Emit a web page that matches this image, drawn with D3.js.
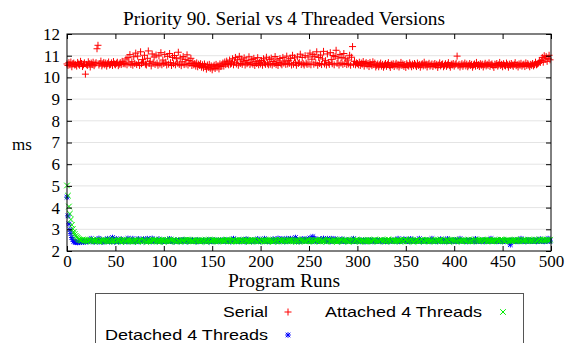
<!DOCTYPE html>
<html>
<head>
<meta charset="utf-8">
<script src="https://cdn.jsdelivr.net/npm/d3@7/dist/d3.min.js"></script>
<style>
  body { margin: 0; background: #fff; }
  svg { display: block; }
</style>
</head>
<body>
<div id="chart"></div>
<script>
// x values are the program run index, 0..499
const xTicks = [0, 50, 100, 150, 200, 250, 300, 350, 400, 450, 500];
const yTicks = [2, 3, 4, 5, 6, 7, 8, 9, 10, 11, 12];

// Serial (ms)
const serial = [
  10.62,10.55,10.68,10.58,10.71,10.49,10.63,10.66,10.57,10.60,
  10.52,10.69,10.61,10.56,10.74,10.64,10.50,10.58,10.67,10.15,
  10.60,10.55,10.72,10.63,10.48,10.66,10.59,10.70,10.54,10.62,
  10.68,11.32,11.48,10.57,10.64,10.75,10.53,10.61,10.69,10.58,
  10.66,10.52,10.63,10.71,10.57,10.60,10.67,10.55,10.73,10.62,
  10.58,10.65,10.70,10.54,10.61,10.68,10.59,10.74,10.63,10.66,
  10.62,10.85,10.58,10.91,10.66,11.05,10.60,10.72,10.56,10.95,
  10.64,11.12,10.59,10.98,10.68,10.55,11.18,10.63,10.82,10.70,
  11.02,10.61,10.57,10.88,11.22,10.65,10.74,10.53,11.08,10.67,
  10.94,10.60,11.03,10.66,10.56,10.99,10.62,11.14,10.58,10.80,
  10.64,11.06,10.70,10.57,10.97,10.61,11.10,10.68,10.55,10.92,
  10.63,11.01,10.58,10.86,10.66,11.16,10.60,10.90,10.54,10.72,
  10.96,10.59,10.83,10.62,11.04,10.57,10.78,10.64,10.88,10.55,
  10.71,10.58,10.64,10.52,10.67,10.49,10.61,10.55,10.63,10.47,
  10.58,10.44,10.62,10.51,10.38,10.57,10.46,10.60,10.42,10.53,
  10.35,10.49,10.56,10.41,10.60,10.47,10.54,10.39,10.62,10.50,
  10.57,10.66,10.52,10.71,10.59,10.75,10.63,10.58,10.80,10.61,
  10.65,10.86,10.58,10.70,10.92,10.62,10.81,10.56,10.97,10.64,
  10.84,10.60,10.72,10.90,10.57,10.78,10.63,10.68,10.95,10.59,
  10.66,10.82,10.61,10.88,10.55,10.74,10.64,10.91,10.58,10.70,
  10.62,10.78,10.56,10.86,10.67,10.60,10.93,10.65,10.58,10.83,
  10.61,10.89,10.57,10.73,10.64,10.96,10.59,10.80,10.55,10.69,
  10.87,10.63,10.58,10.92,10.66,10.75,10.60,10.98,10.62,10.79,
  10.65,10.88,10.57,11.02,10.61,10.90,10.68,10.56,10.95,10.64,
  10.70,11.07,10.59,10.92,10.63,10.57,11.00,10.66,10.60,10.94,
  10.62,11.12,10.58,10.84,11.05,10.61,10.97,10.67,11.18,10.56,
  10.92,10.64,11.03,10.59,10.85,11.20,10.62,10.77,10.57,11.08,
  10.68,10.60,11.14,10.82,10.63,11.01,10.58,10.96,11.25,10.65,
  10.89,10.57,11.06,10.66,10.92,10.60,11.10,10.64,10.86,10.59,
  10.80,10.62,11.02,10.56,10.93,11.42,10.61,10.74,10.58,10.67,
  10.64,10.58,10.70,10.55,10.66,10.61,10.73,10.52,10.63,10.68,
  10.57,10.64,10.50,10.69,10.60,10.54,10.72,10.59,10.66,10.48,
  10.55,10.62,10.49,10.58,10.66,10.52,10.60,10.47,10.57,10.64,
  10.51,10.59,10.68,10.54,10.46,10.61,10.56,10.63,10.50,10.58,
  10.65,10.53,10.60,10.48,10.57,10.69,10.55,10.62,10.51,10.59,
  10.46,10.63,10.56,10.52,10.67,10.58,10.49,10.61,10.54,10.64,
  10.57,10.50,10.66,10.55,10.60,10.47,10.58,10.63,10.53,10.70,
  10.56,10.61,10.48,10.59,10.65,10.52,10.57,10.62,10.50,10.58,
  10.64,10.54,10.60,10.46,10.57,10.67,10.53,10.59,10.62,10.49,
  10.56,10.63,10.51,10.58,10.68,10.55,10.47,10.61,10.57,10.64,
  10.52,10.59,10.65,10.98,10.54,10.60,10.48,10.57,10.63,10.51,
  10.58,10.66,10.53,10.61,10.49,10.56,10.64,10.55,10.60,10.47,
  10.57,10.62,10.52,10.69,10.55,10.59,10.50,10.63,10.56,10.61,
  10.48,10.58,10.65,10.53,10.60,10.56,10.67,10.51,10.59,10.62,
  10.54,10.46,10.61,10.57,10.64,10.52,10.58,10.69,10.55,10.60,
  10.49,10.63,10.56,10.53,10.66,10.58,10.47,10.61,10.55,10.64,
  10.57,10.51,10.60,10.68,10.54,10.59,10.48,10.62,10.56,10.65,
  10.52,10.58,10.61,10.50,10.67,10.55,10.63,10.57,10.49,10.60,
  10.56,10.64,10.53,10.59,10.70,10.58,10.62,10.66,10.74,10.69,
  10.78,10.92,10.70,11.00,10.85,10.96,10.74,10.88,11.02,10.81
];

// Attached 4 Threads (ms)
const attached = [
  5.02,4.55,4.05,3.72,3.45,3.20,3.02,2.88,2.78,2.70,
  2.64,2.60,2.55,2.52,2.50,2.48,2.53,2.46,2.51,2.49,
  2.47,2.44,2.50,2.46,2.52,2.43,2.48,2.51,2.45,2.49,
  2.46,2.53,2.44,2.48,2.42,2.50,2.47,2.45,2.52,2.46,
  2.49,2.45,2.51,2.43,2.47,2.54,2.46,2.44,2.50,2.48,
  2.44,2.49,2.46,2.52,2.45,2.48,2.41,2.50,2.47,2.53,
  2.48,2.43,2.50,2.46,2.51,2.44,2.49,2.47,2.42,2.50,
  2.45,2.51,2.47,2.43,2.49,2.46,2.53,2.48,2.44,2.47,
  2.50,2.46,2.42,2.49,2.45,2.52,2.47,2.43,2.51,2.46,
  2.47,2.53,2.45,2.48,2.44,2.50,2.42,2.49,2.46,2.52,
  2.43,2.48,2.51,2.45,2.50,2.47,2.44,2.53,2.46,2.49,
  2.51,2.45,2.48,2.42,2.47,2.50,2.46,2.44,2.52,2.48,
  2.46,2.50,2.43,2.49,2.53,2.45,2.48,2.51,2.44,2.47,
  2.49,2.44,2.52,2.47,2.45,2.48,2.50,2.43,2.46,2.51,
  2.45,2.48,2.46,2.51,2.42,2.49,2.47,2.53,2.48,2.44,
  2.52,2.46,2.49,2.44,2.50,2.47,2.43,2.48,2.45,2.50,
  2.47,2.51,2.45,2.48,2.46,2.53,2.49,2.44,2.50,2.46,
  2.44,2.49,2.52,2.46,2.48,2.43,2.51,2.47,2.45,2.49,
  2.50,2.45,2.47,2.53,2.44,2.48,2.46,2.50,2.42,2.48,
  2.46,2.52,2.44,2.49,2.51,2.45,2.48,2.43,2.50,2.47,
  2.48,2.44,2.50,2.46,2.43,2.51,2.47,2.49,2.45,2.52,
  2.45,2.50,2.47,2.42,2.49,2.46,2.52,2.48,2.44,2.50,
  2.51,2.46,2.43,2.48,2.50,2.44,2.47,2.53,2.46,2.49,
  2.47,2.52,2.45,2.50,2.44,2.49,2.46,2.42,2.51,2.48,
  2.43,2.48,2.51,2.46,2.53,2.47,2.44,2.49,2.45,2.50,
  2.49,2.45,2.47,2.52,2.46,2.43,2.50,2.48,2.51,2.44,
  2.46,2.51,2.44,2.48,2.50,2.45,2.53,2.47,2.43,2.49,
  2.52,2.47,2.49,2.44,2.46,2.51,2.45,2.50,2.48,2.42,
  2.45,2.50,2.46,2.53,2.48,2.44,2.49,2.46,2.52,2.47,
  2.48,2.43,2.51,2.47,2.45,2.50,2.44,2.48,2.46,2.53,
  2.50,2.46,2.48,2.42,2.51,2.47,2.49,2.45,2.44,2.50,
  2.44,2.52,2.47,2.49,2.46,2.43,2.50,2.48,2.53,2.45,
  2.49,2.46,2.44,2.51,2.48,2.52,2.45,2.47,2.50,2.43,
  2.47,2.50,2.53,2.45,2.49,2.44,2.48,2.51,2.46,2.48,
  2.45,2.49,2.46,2.50,2.43,2.48,2.52,2.44,2.47,2.51,
  2.51,2.44,2.48,2.46,2.50,2.53,2.47,2.49,2.42,2.46,
  2.46,2.48,2.51,2.44,2.47,2.45,2.50,2.52,2.48,2.43,
  2.50,2.47,2.45,2.52,2.44,2.49,2.46,2.48,2.51,2.47,
  2.43,2.51,2.48,2.46,2.50,2.47,2.53,2.45,2.49,2.44,
  2.48,2.45,2.50,2.49,2.46,2.42,2.48,2.51,2.47,2.52,
  2.46,2.52,2.44,2.47,2.51,2.48,2.45,2.50,2.43,2.49,
  2.50,2.47,2.49,2.45,2.48,2.53,2.46,2.44,2.51,2.47,
  2.44,2.49,2.52,2.48,2.45,2.47,2.50,2.46,2.49,2.53,
  2.49,2.46,2.47,2.51,2.43,2.50,2.48,2.52,2.45,2.46,
  2.47,2.51,2.45,2.49,2.50,2.44,2.47,2.48,2.53,2.50,
  2.52,2.48,2.46,2.44,2.49,2.51,2.45,2.50,2.47,2.48,
  2.45,2.50,2.48,2.53,2.46,2.47,2.52,2.44,2.49,2.51,
  2.48,2.44,2.51,2.47,2.50,2.45,2.49,2.53,2.46,2.50,
  2.50,2.47,2.45,2.49,2.52,2.48,2.46,2.51,2.54,2.49,
  2.47,2.52,2.49,2.46,2.51,2.48,2.53,2.50,2.47,2.52
];

// Detached 4 Threads (ms)
const detached = [
  4.48,3.62,3.25,2.98,2.80,2.62,2.52,2.45,2.42,2.40,
  2.41,2.39,2.43,2.40,2.44,2.42,2.46,2.41,2.45,2.43,
  2.46,2.43,2.49,2.45,2.50,2.57,2.44,2.47,2.42,2.48,
  2.45,2.51,2.43,2.58,2.46,2.49,2.41,2.47,2.44,2.50,
  2.48,2.44,2.57,2.46,2.43,2.49,2.45,2.62,2.47,2.42,
  2.44,2.56,2.47,2.45,2.50,2.43,2.55,2.48,2.46,2.44,
  2.49,2.46,2.43,2.58,2.47,2.51,2.44,2.46,2.57,2.45,
  2.47,2.42,2.50,2.45,2.56,2.48,2.44,2.49,2.46,2.55,
  2.43,2.48,2.46,2.57,2.45,2.50,2.47,2.43,2.58,2.46,
  2.50,2.45,2.48,2.44,2.47,2.55,2.45,2.49,2.43,2.48,
  2.46,2.49,2.44,2.47,2.51,2.45,2.56,2.46,2.48,2.44,
  2.48,2.43,2.47,2.50,2.45,2.48,2.44,2.49,2.46,2.51,
  2.44,2.47,2.50,2.46,2.43,2.49,2.47,2.45,2.50,2.46,
  2.49,2.45,2.48,2.43,2.47,2.51,2.44,2.48,2.46,2.45,
  2.46,2.50,2.44,2.48,2.45,2.47,2.49,2.43,2.51,2.47,
  2.47,2.44,2.49,2.46,2.50,2.45,2.48,2.44,2.47,2.50,
  2.45,2.48,2.46,2.51,2.44,2.49,2.47,2.45,2.48,2.43,
  2.50,2.46,2.57,2.45,2.48,2.44,2.49,2.47,2.45,2.51,
  2.44,2.49,2.46,2.48,2.43,2.55,2.45,2.50,2.47,2.46,
  2.48,2.45,2.50,2.44,2.47,2.49,2.46,2.56,2.45,2.48,
  2.46,2.51,2.44,2.48,2.57,2.46,2.49,2.45,2.47,2.44,
  2.49,2.45,2.47,2.55,2.46,2.50,2.44,2.48,2.58,2.46,
  2.45,2.48,2.56,2.46,2.49,2.44,2.47,2.57,2.45,2.50,
  2.47,2.57,2.45,2.49,2.44,2.48,2.62,2.46,2.50,2.45,
  2.44,2.48,2.50,2.56,2.46,2.45,2.49,2.55,2.47,2.48,
  2.48,2.60,2.46,2.44,2.66,2.47,2.57,2.45,2.49,2.46,
  2.50,2.45,2.55,2.48,2.46,2.58,2.44,2.49,2.47,2.57,
  2.46,2.49,2.44,2.57,2.48,2.45,2.50,2.56,2.46,2.47,
  2.49,2.44,2.47,2.46,2.55,2.48,2.45,2.50,2.44,2.48,
  2.45,2.50,2.46,2.48,2.44,2.47,2.57,2.45,2.49,2.46,
  2.48,2.46,2.49,2.44,2.50,2.45,2.47,2.48,2.43,2.49,
  2.44,2.49,2.45,2.47,2.46,2.50,2.44,2.48,2.47,2.45,
  2.47,2.45,2.48,2.50,2.44,2.46,2.49,2.45,2.48,2.44,
  2.45,2.48,2.46,2.44,2.49,2.47,2.45,2.50,2.46,2.48,
  2.49,2.44,2.57,2.47,2.45,2.48,2.46,2.49,2.55,2.47,
  2.46,2.50,2.45,2.48,2.44,2.56,2.47,2.45,2.49,2.46,
  2.48,2.45,2.49,2.46,2.57,2.47,2.44,2.48,2.46,2.50,
  2.45,2.48,2.46,2.50,2.47,2.44,2.49,2.57,2.45,2.47,
  2.47,2.44,2.48,2.45,2.49,2.46,2.55,2.48,2.44,2.49,
  2.44,2.49,2.47,2.56,2.45,2.48,2.46,2.44,2.50,2.46,
  2.49,2.46,2.44,2.48,2.47,2.45,2.57,2.49,2.46,2.48,
  2.46,2.48,2.45,2.49,2.44,2.47,2.50,2.46,2.48,2.45,
  2.48,2.44,2.56,2.46,2.49,2.45,2.47,2.48,2.44,2.50,
  2.45,2.50,2.47,2.44,2.48,2.46,2.49,2.45,2.57,2.47,
  2.47,2.45,2.49,2.46,2.44,2.48,2.45,2.50,2.47,2.46,
  2.44,2.48,2.46,2.49,2.47,2.45,2.48,2.44,2.29,2.49,
  2.49,2.46,2.48,2.45,2.50,2.47,2.44,2.48,2.46,2.57,
  2.46,2.49,2.45,2.47,2.44,2.48,2.50,2.46,2.49,2.45,
  2.48,2.45,2.47,2.50,2.46,2.44,2.48,2.49,2.45,2.55,
  2.45,2.48,2.46,2.44,2.49,2.47,2.45,2.57,2.48,2.46
];

const width = 568, height = 343;
const plot = { left: 67, right: 551, top: 34, bottom: 251 };

const svg = d3.select('#chart').append('svg')
  .attr('width', width)
  .attr('height', height)
  .style('background', '#fff');

const x = d3.scaleLinear().domain([0, 500]).range([plot.left, plot.right]);
const y = d3.scaleLinear().domain([2, 12]).range([plot.bottom, plot.top]);

const serif = '"Liberation Serif", "Times New Roman", serif';
const sans = '"Liberation Sans", Arial, sans-serif';

// light horizontal grid
svg.append('g')
  .selectAll('line')
  .data(yTicks.slice(1, -1))
  .enter().append('line')
  .attr('x1', plot.left).attr('x2', plot.right)
  .attr('y1', d => y(d)).attr('y2', d => y(d))
  .attr('stroke', '#e4e4e4')
  .attr('stroke-width', 1);

// marker shapes (gnuplot style)
const plusPath = 'M-3.5,0H3.5M0,-3.5V3.5';
const crossPath = 'M-2.8,-2.8L2.8,2.8M-2.8,2.8L2.8,-2.8';
const starPath = 'M-2.8,0H2.8M0,-2.8V2.8M-2.3,-2.3L2.3,2.3M-2.3,2.3L2.3,-2.3';

function drawSeries(values, path, color) {
  svg.append('g')
    .selectAll('path')
    .data(values)
    .enter().append('path')
    .attr('d', path)
    .attr('transform', (d, i) => `translate(${x(i)},${y(d)})`)
    .attr('fill', 'none')
    .attr('stroke', color)
    .attr('stroke-width', 1);
}

drawSeries(serial, plusPath, '#ff0000');
drawSeries(detached, starPath, '#0000ff');
drawSeries(attached, crossPath, '#00ee00');

// axes: ticks inward, mirrored on top and right
const axisBottom = svg.append('g')
  .attr('transform', `translate(0,${plot.bottom})`)
  .call(d3.axisBottom(x).tickValues(xTicks).tickSize(-5).tickPadding(4));
const axisTop = svg.append('g')
  .attr('transform', `translate(0,${plot.top})`)
  .call(d3.axisTop(x).tickValues(xTicks).tickSize(-5).tickFormat(''));
const axisLeft = svg.append('g')
  .attr('transform', `translate(${plot.left},0)`)
  .call(d3.axisLeft(y).tickValues(yTicks).tickSize(-5).tickPadding(7));
const axisRight = svg.append('g')
  .attr('transform', `translate(${plot.right},0)`)
  .call(d3.axisRight(y).tickValues(yTicks).tickSize(-5).tickFormat(''));

[axisBottom, axisTop, axisLeft, axisRight].forEach(g => {
  g.select('.domain').remove();
  g.selectAll('.tick line').attr('stroke', '#000');
  g.selectAll('text')
    .style('font-family', serif)
    .style('font-size', '17px')
    .attr('fill', '#000');
});

// plot border
svg.append('rect')
  .attr('x', plot.left).attr('y', plot.top)
  .attr('width', plot.right - plot.left)
  .attr('height', plot.bottom - plot.top)
  .attr('fill', 'none')
  .attr('stroke', '#000')
  .attr('stroke-width', 1);

// title and axis labels
svg.append('text')
  .attr('x', 284).attr('y', 25)
  .attr('text-anchor', 'middle')
  .attr('textLength', 322).attr('lengthAdjust', 'spacingAndGlyphs')
  .style('font-family', serif).style('font-size', '18px')
  .text('Priority 90. Serial vs 4 Threaded Versions');

svg.append('text')
  .attr('x', 12).attr('y', 150)
  .style('font-family', serif).style('font-size', '17px')
  .text('ms');

svg.append('text')
  .attr('x', 284).attr('y', 287)
  .attr('text-anchor', 'middle')
  .attr('textLength', 112).attr('lengthAdjust', 'spacingAndGlyphs')
  .style('font-family', serif).style('font-size', '18px')
  .text('Program Runs');

// legend
const legend = svg.append('g');
legend.append('rect')
  .attr('x', 95.5).attr('y', 293.5)
  .attr('width', 428).attr('height', 70)
  .attr('fill', 'none')
  .attr('stroke', '#555')
  .attr('stroke-width', 1);

const legendItems = [
  { label: 'Serial', tx: 268, ty: 317, mx: 288, len: 45, path: plusPath, color: '#ff0000' },
  { label: 'Attached 4 Threads', tx: 482, ty: 317, mx: 503, len: 157, path: crossPath, color: '#00ee00' },
  { label: 'Detached 4 Threads', tx: 268, ty: 340, mx: 288, len: 163, path: starPath, color: '#0000ff' }
];

legendItems.forEach(d => {
  legend.append('text')
    .attr('x', d.tx).attr('y', d.ty)
    .attr('text-anchor', 'end')
    .attr('textLength', d.len).attr('lengthAdjust', 'spacingAndGlyphs')
    .style('font-family', sans).style('font-size', '15px')
    .text(d.label);
  legend.append('path')
    .attr('d', d.path)
    .attr('transform', `translate(${d.mx},${d.ty - 5})`)
    .attr('fill', 'none')
    .attr('stroke', d.color)
    .attr('stroke-width', 1);
});
</script>
</body>
</html>
